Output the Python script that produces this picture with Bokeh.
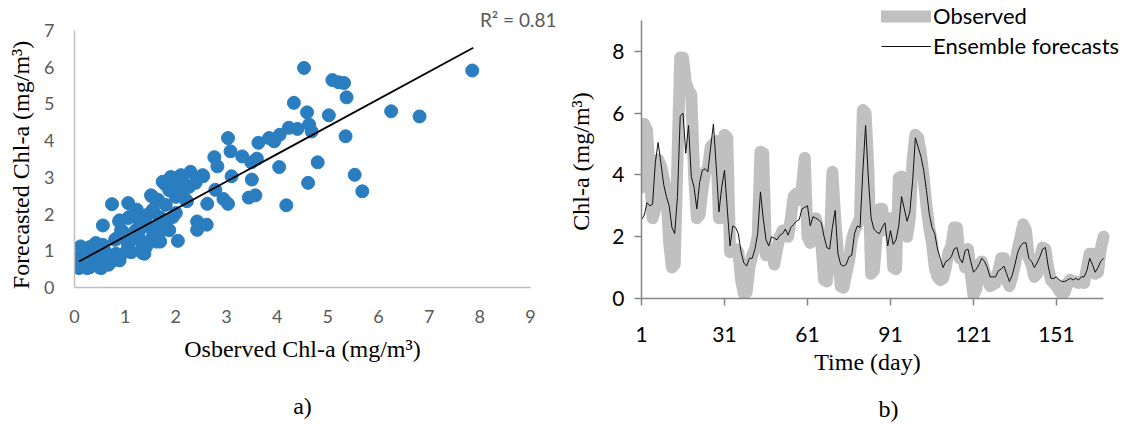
from bokeh.plotting import figure
from bokeh.layouts import row
from bokeh.models import Legend, LegendItem, FixedTicker, Range1d, LinearAxis
from bokeh.embed import file_html
from bokeh.resources import INLINE

# ---------------- data: panel a (scatter) ----------------
obs_x = [7.85, 4.53, 5.09, 5.21, 5.32, 5.37, 5.02, 6.25, 6.81, 4.33, 4.59, 4.63, 4.68, 5.35,
         4.40, 4.23, 4.05, 3.94, 3.84, 3.63, 4.80, 4.04, 4.61, 5.53, 5.68, 4.18, 3.03, 3.08,
         3.31, 3.60, 3.49, 2.76, 2.82, 3.10, 3.50, 3.44, 3.57, 3.03, 2.94, 2.78, 2.62, 2.42,
         2.42, 2.61, 2.04, 2.29, 2.54, 2.39, 2.13, 1.92, 1.78, 1.53, 1.65, 2.04, 2.08, 2.22,
         2.00, 1.80, 1.55, 1.44, 1.71, 1.83, 1.65, 1.69, 1.61, 0.74, 1.06, 1.23, 1.06, 0.88,
         0.56, 1.30, 1.27, 0.95, 0.80, 1.09, 1.34, 1.34, 1.02, 0.88, 0.67, 0.53, 0.42, 0.56,
         0.35, 0.12, 0.07, 0.09, 0.25, 0.39, 0.67, 0.18,
         1.51, 1.74, 1.90, 2.10, 2.53, 1.87, 2.00, 1.61, 1.54, 1.67, 1.48, 1.21, 0.82, 1.05,
         1.31, 1.54, 1.80, 1.94, 2.20, 2.26, 2.07, 1.71, 1.41, 1.38, 1.12, 0.82, 0.59, 0.43,
         0.30, 0.10, 0.10, 0.30, 0.49, 0.69, 0.89, 0.69, 0.49, 1.67, 1.87, 1.31, 0.92, 1.08,
         1.28, 0.89]
fc_y = [5.91, 5.98, 5.65, 5.59, 5.57, 5.18, 4.69, 4.80, 4.66, 5.03, 4.77, 4.44, 4.25, 4.12,
        4.32, 4.35, 4.16, 3.98, 4.07, 3.94, 3.41, 3.28, 2.85, 3.07, 2.62, 2.24, 4.07, 3.71,
        3.57, 3.51, 3.41, 3.55, 3.30, 3.03, 2.94, 2.45, 2.51, 2.28, 2.41, 2.66, 2.28, 1.80,
        1.57, 1.71, 1.27, 3.15, 3.03, 2.85, 2.98, 2.98, 2.82, 2.48, 2.39, 2.71, 2.53, 2.35,
        2.03, 2.25, 2.12, 1.98, 1.89, 1.62, 1.53, 1.25, 1.25, 2.27, 2.30, 2.12, 1.89, 1.80,
        1.69, 1.80, 1.53, 1.53, 1.30, 1.25, 1.12, 0.94, 0.98, 0.75, 0.62, 0.53, 1.21, 1.16,
        1.03, 1.12, 0.80, 0.53, 0.53, 0.71, 0.89, 0.89,
        2.51, 2.88, 3.01, 3.06, 3.06, 2.65, 2.47, 2.38, 2.10, 1.92, 1.65, 1.56, 1.33, 1.19,
        1.28, 1.37, 1.65, 1.92, 2.38, 2.74, 2.83, 1.74, 1.10, 0.92, 0.96, 0.92, 1.01, 1.15,
        1.10, 0.83, 0.55, 0.55, 0.55, 0.65, 0.74, 0.87, 0.80, 1.47, 1.56, 1.65, 1.56, 1.92,
        1.83, 1.83]
trend_x = [0.09, 7.87]
trend_y = [0.71, 6.53]
x_ticks_a = [0, 1, 2, 3, 4, 5, 6, 7, 8, 9]
y_ticks_a = [0, 1, 2, 3, 4, 5, 6, 7]

# ---------------- data: panel b (time series) ----------------
days = list(range(1, 169))
observed = [3.6, 5.65, 5.45, 4.0, 2.6, 2.9, 4.5, 4.3, 3.9, 3.4,
            1.8, 1.0, 1.1, 4.5, 7.8, 7.8, 7.0, 6.75, 6.6, 4.0,
            2.6, 2.7, 3.5, 4.1, 4.2, 4.9, 5.0, 5.1, 2.6, 2.6,
            5.3, 5.2, 1.5, 1.6, 1.6, 1.5, 0.6, 0.15, 0.2, 1.0,
            1.4, 1.6, 2.0, 4.75, 4.7, 1.4, 1.5, 1.6, 1.1, 1.6,
            2.0, 2.2, 2.1, 2.0, 2.6, 3.3, 3.4, 3.2, 3.6, 4.55,
            2.0, 1.8, 2.5, 2.6, 2.2, 1.8, 0.6, 0.55, 1.5, 4.1,
            2.6, 1.5, 0.4, 0.35, 0.8, 1.2, 1.9, 2.2, 2.4, 2.6,
            6.1, 6.0, 4.2, 0.8, 0.9, 2.0, 2.9, 2.9, 2.2, 2.5,
            2.6, 1.0, 0.95, 3.9, 3.95, 3.9, 2.0, 2.6, 4.5, 5.3,
            5.2, 4.7, 3.9, 3.0, 2.3, 1.8, 1.0, 0.7, 0.6, 0.65,
            1.0, 1.5, 1.7, 2.3, 2.3, 1.3, 1.4, 1.0, 1.6, 0.8,
            0.1, 0.3, 1.1, 1.2, 0.9, 0.6, 0.4, 0.45, 0.5, 0.9,
            1.3, 1.3, 0.6, 0.4, 0.7, 1.1, 1.6, 2.0, 2.4, 2.2,
            1.3, 1.1, 0.7, 0.8, 1.3, 1.65, 1.6, 1.0, 0.6, 0.5,
            0.4, 0.25, 0.15, 0.2, 0.5, 0.6, 0.55, 0.55, 0.5, 0.55,
            0.5, 1.0, 1.45, 1.45, 0.8, 0.85, 1.6, 2.0]
forecast = [2.55, 2.7, 3.1, 3.0, 3.05, 4.4, 5.05, 4.4, 3.7, 3.3,
            3.0, 2.3, 2.1, 3.3, 5.9, 6.0, 4.7, 5.6, 3.95, 3.6,
            2.9, 3.75, 4.15, 4.2, 4.1, 4.9, 5.65, 4.3, 2.8, 3.6,
            4.15, 2.9, 1.7, 2.35, 2.3, 2.1, 1.5, 1.15, 1.05, 1.3,
            1.3, 1.6, 2.1, 3.45, 2.6, 1.9, 1.7, 2.0, 1.95, 1.9,
            2.05, 2.1, 2.25, 2.05, 2.3, 2.4, 2.5, 2.55, 2.9, 2.95,
            3.0, 2.35, 2.65, 2.6, 2.55, 2.45, 2.0, 1.65, 1.6, 2.3,
            2.85, 1.45, 1.1, 1.05, 1.1, 1.35, 1.4, 2.1, 2.35, 2.3,
            4.1, 5.6, 3.9, 2.6, 2.25, 2.15, 2.1, 2.3, 2.45, 1.7,
            2.2, 1.75, 1.9, 2.35, 3.3, 2.9, 2.5, 2.8, 3.8, 5.2,
            4.9, 4.6, 4.15, 3.5, 2.75, 2.3, 2.1, 1.6, 1.3, 1.0,
            1.2, 1.25, 1.35, 1.6, 1.65, 1.3, 1.15, 1.55, 1.6, 1.2,
            0.85, 0.95, 1.1, 1.3, 1.2, 1.0, 0.7, 0.7, 0.7, 0.9,
            0.95, 1.05, 0.8, 0.55, 0.75, 1.1, 1.5, 1.7, 1.8, 1.8,
            1.3, 1.2, 1.0, 1.15, 1.35, 1.6, 1.65, 1.05, 0.65, 0.65,
            0.7, 0.6, 0.55, 0.55, 0.6, 0.65, 0.6, 0.65, 0.6, 0.7,
            0.7, 0.9, 1.3, 1.1, 0.85, 1.0, 1.2, 1.3]
x_ticks_b = [1, 31, 61, 91, 121, 151]
y_ticks_b = [0, 2, 4, 6, 8]

SERIF = "Liberation Serif"
SANS = "Lato"
NB = "\u00a0"


def no_frame_align(p):
    if "frame_align" in p.properties():
        p.frame_align = False


def caption_axis(label, standoff):
    return LinearAxis(axis_label=label, ticker=FixedTicker(ticks=[]),
                      axis_line_color=None, major_tick_out=0, major_tick_in=0,
                      minor_tick_out=0, minor_tick_in=0, major_label_standoff=0,
                      axis_label_standoff=standoff, axis_label_text_font=SERIF,
                      axis_label_text_font_size="24px", axis_label_text_font_style="normal",
                      axis_label_text_color="black")


# ---------------- panel a ----------------
p1 = figure(width=565, height=424, x_range=Range1d(0, 9), y_range=Range1d(0, 7),
            title="R² = 0.81", output_backend="svg", toolbar_location=None,
            min_border_left=74, min_border_right=35, min_border_top=30, min_border_bottom=137)
no_frame_align(p1)
p1.title.align = "right"
p1.title.offset = -26
p1.title.standoff = 0
p1.title.text_font = SANS
p1.title.text_font_size = "19px"
p1.title.text_font_style = "normal"
p1.title.text_color = "#595959"
p1.outline_line_color = None
p1.grid.visible = False
p1.xaxis.ticker = FixedTicker(ticks=x_ticks_a)
p1.yaxis.ticker = FixedTicker(ticks=y_ticks_a)
for ax in (p1.xaxis[0], p1.yaxis[0]):
    ax.axis_line_color = "#BFBFBF"
    ax.axis_line_width = 1.5
    ax.major_tick_out = 0
    ax.major_tick_in = 0
    ax.minor_tick_out = 0
    ax.minor_tick_in = 0
    ax.major_label_text_font = SANS
    ax.major_label_text_font_size = "18px"
    ax.major_label_text_color = "#595959"
    ax.axis_label_text_font = SERIF
    ax.axis_label_text_font_size = "24px"
    ax.axis_label_text_font_style = "normal"
    ax.axis_label_text_color = "black"
p1.xaxis.major_label_standoff = 22
p1.yaxis.major_label_standoff = 20
p1.xaxis.axis_label = "Osberved Chl-a (mg/m³)"
p1.xaxis.axis_label_standoff = 10
p1.yaxis.axis_label = "Forecasted Chl-a (mg/m³)" + NB * 2
p1.yaxis.axis_label_standoff = 7
p1.add_layout(caption_axis("a)", 28), "below")

p1.scatter(obs_x, fc_y, size=13, fill_color="#2A7EC0", line_color="#2A7EC0")
p1.line(trend_x, trend_y, line_color="black", line_width=1.8)

# ---------------- panel b ----------------
# frame extends a little past the axes (axis bounds keep the axes at 1..168 and 0..9)
p2 = figure(width=565, height=424, x_range=Range1d(1, 177.4), y_range=Range1d(0, 299 / 31),
            output_backend="svg", toolbar_location=None,
            min_border_left=66, min_border_right=1, min_border_top=0, min_border_bottom=125)
no_frame_align(p2)
p2.title.visible = False
p2.title.standoff = 0
p2.outline_line_color = None
p2.grid.visible = False
p2.xaxis.ticker = FixedTicker(ticks=x_ticks_b)
p2.yaxis.ticker = FixedTicker(ticks=y_ticks_b)
p2.xaxis.bounds = (1, 168)
p2.yaxis.bounds = (0, 9)
for ax in (p2.xaxis[0], p2.yaxis[0]):
    ax.axis_line_color = "#868686"
    ax.axis_line_width = 1.5
    ax.major_tick_line_color = "#868686"
    ax.major_tick_line_width = 1.5
    ax.major_tick_out = 7
    ax.major_tick_in = 0
    ax.minor_tick_out = 0
    ax.minor_tick_in = 0
    ax.major_label_text_font = SANS
    ax.major_label_text_font_size = "21px"
    ax.major_label_text_color = "black"
    ax.axis_label_text_font = SERIF
    ax.axis_label_text_font_size = "24px"
    ax.axis_label_text_font_style = "normal"
    ax.axis_label_text_color = "black"
p2.xaxis.major_label_standoff = 21
p2.yaxis.major_label_standoff = 10
p2.xaxis.axis_label = "Time (day)" + NB * 6
p2.xaxis.axis_label_standoff = 4
p2.yaxis.axis_label = "Chl-a (mg/m³)" + NB * 4
p2.yaxis.axis_label_standoff = 15
p2.add_layout(caption_axis(NB + "b)", 18), "below")

r_obs = p2.line(days, observed, line_color="#C0C0C0", line_width=12,
                line_join="round", line_cap="round")
r_fc = p2.line(days, forecast, line_color="#111111", line_width=1)

legend = Legend(items=[LegendItem(label="Observed", renderers=[r_obs]),
                       LegendItem(label="Ensemble forecasts", renderers=[r_fc])],
                location=(240, 239), orientation="vertical",
                border_line_color=None, background_fill_alpha=0,
                padding=0, margin=0, spacing=3,
                glyph_width=50, glyph_height=26, label_height=26, label_standoff=2,
                label_text_font=SANS, label_text_font_size="22px",
                label_text_color="black")
p2.add_layout(legend)

layout = row(p1, p2, spacing=0)
open("out.html", "w").write(file_html(layout, INLINE))
